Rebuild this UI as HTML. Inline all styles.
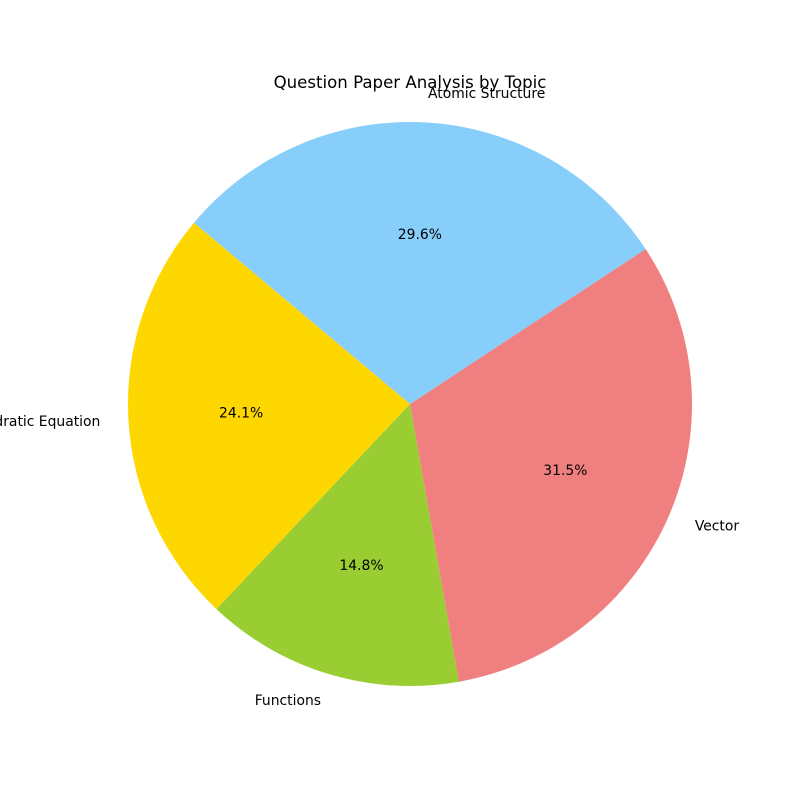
<!DOCTYPE html>
<html><head><meta charset="utf-8">
<style>
html,body{margin:0;padding:0;background:#fff;}
svg{display:block;font-family:"DejaVu Sans","Liberation Sans",sans-serif;}
</style></head>
<body>
<svg id="chart" width="800" height="800" viewBox="0 0 800 800">
<rect width="800" height="800" fill="#fff"/>
<text x="410" y="88" text-anchor="middle" font-size="16.6" fill="#000">Question Paper Analysis by Topic</text>
<g id="slices"></g>
<g id="labels"></g>
</svg>
<script>
const categories = ["Quadratic Equation", "Functions", "Vector", "Atomic Structure"];
const values = [13, 8, 17, 16];
const colors = ["#FFD700", "#9ACD32", "#F08080", "#87CEFA"];
const startAngle = 140;

const NS = "http://www.w3.org/2000/svg";
const cx = 410, cy = 404, r = 282;
const total = values.reduce((a, b) => a + b, 0);
const slicesG = document.getElementById("slices");
const labelsG = document.getElementById("labels");
function pt(deg, rad) {
  const a = deg * Math.PI / 180;
  return [cx + rad * Math.cos(a), cy - rad * Math.sin(a)];
}
let ang = startAngle;
values.forEach((v, i) => {
  const sweep = v / total * 360;
  const a0 = ang, a1 = ang + sweep;
  const p0 = pt(a0, r), p1 = pt(a1, r);
  const large = sweep > 180 ? 1 : 0;
  const path = document.createElementNS(NS, "path");
  path.setAttribute("d", `M${cx},${cy} L${p0[0]},${p0[1]} A${r},${r} 0 ${large} 0 ${p1[0]},${p1[1]} Z`);
  path.setAttribute("fill", colors[i]);
  
  
  slicesG.appendChild(path);

  const mid = (a0 + a1) / 2;
  const lp = pt(mid, r * 1.1);
  const lt = document.createElementNS(NS, "text");
  lt.setAttribute("x", lp[0]);
  lt.setAttribute("y", lp[1] + 3.8);
  lt.setAttribute("font-size", "13.9");
  lt.setAttribute("text-anchor", Math.cos(mid * Math.PI / 180) >= 0 ? "start" : "end");
  lt.textContent = categories[i];
  
  
  labelsG.appendChild(lt);

  const pp = pt(mid, r * 0.6);
  const pc = document.createElementNS(NS, "text");
  pc.setAttribute("x", pp[0]);
  pc.setAttribute("y", pp[1] + 3.8);
  pc.setAttribute("font-size", "13.9");
  pc.setAttribute("text-anchor", "middle");
  pc.textContent = (v / total * 100).toFixed(1) + "%";
  
  
  labelsG.appendChild(pc);

  ang = a1;
});
</script>
</body></html>
